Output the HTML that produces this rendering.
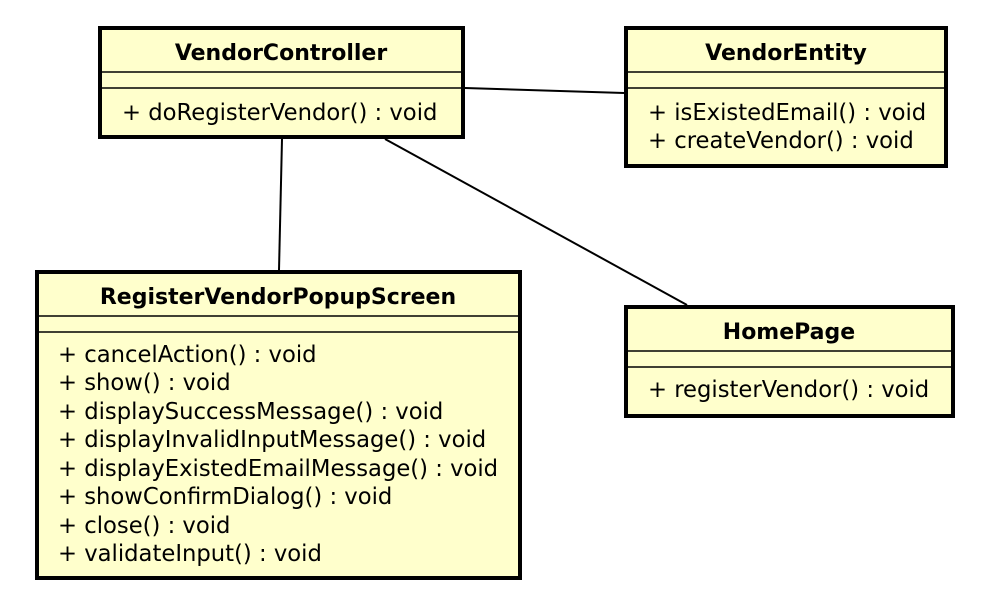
<!DOCTYPE html>
<html><head><meta charset="utf-8"><style>
html,body{margin:0;padding:0;background:#fff;}
svg{display:block;}
text{font-family:"DejaVu Sans","Liberation Sans",sans-serif;font-size:22.7px;fill:#000;}
.t{font-weight:bold;text-anchor:middle;font-size:22px;}
</style></head><body>
<svg width="1006" height="596" viewBox="0 0 1006 596" xmlns="http://www.w3.org/2000/svg">
<g stroke="#000" stroke-width="2" fill="none">
<line x1="465" y1="88" x2="624" y2="93"/>
<line x1="282" y1="139" x2="279" y2="270"/>
<line x1="385" y1="139" x2="687" y2="305"/>
</g>
<g fill="#ffffcc" stroke="#000" stroke-width="4">
<rect x="100" y="28" width="363" height="109"/>
<rect x="626" y="28" width="320" height="138"/>
<rect x="37" y="272" width="483" height="306"/>
<rect x="626" y="307" width="327" height="109"/>
</g>
<g stroke="#000" stroke-width="1.5">
<line x1="100" y1="72" x2="463" y2="72"/><line x1="100" y1="88" x2="463" y2="88"/>
<line x1="626" y1="72" x2="946" y2="72"/><line x1="626" y1="88" x2="946" y2="88"/>
<line x1="37" y1="316" x2="520" y2="316"/><line x1="37" y1="332" x2="520" y2="332"/>
<line x1="626" y1="351" x2="953" y2="351"/><line x1="626" y1="367" x2="953" y2="367"/>
</g>
<text class="t" x="281" y="60">VendorController</text>
<text x="122" y="120">+ doRegisterVendor() : void</text>
<text class="t" x="786" y="60">VendorEntity</text>
<text x="648" y="120">+ isExistedEmail() : void</text>
<text x="648" y="148">+ createVendor() : void</text>
<text class="t" x="278" y="304">RegisterVendorPopupScreen</text>
<text x="58" y="362">+ cancelAction() : void</text>
<text x="58" y="390">+ show() : void</text>
<text x="58" y="419">+ displaySuccessMessage() : void</text>
<text x="58" y="447">+ displayInvalidInputMessage() : void</text>
<text x="58" y="476">+ displayExistedEmailMessage() : void</text>
<text x="58" y="504">+ showConfirmDialog() : void</text>
<text x="58" y="533">+ close() : void</text>
<text x="58" y="561">+ validateInput() : void</text>
<text class="t" x="789" y="339">HomePage</text>
<text x="648" y="397">+ registerVendor() : void</text>
</svg>
</body></html>
